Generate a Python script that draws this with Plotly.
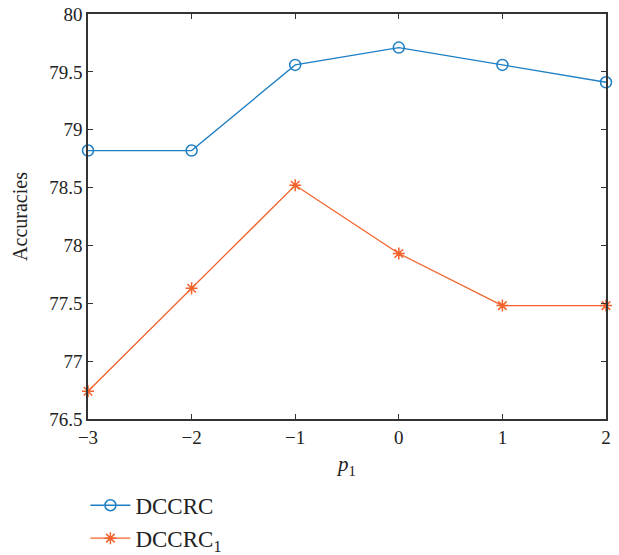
import plotly.graph_objects as go

p1 = [-3, -2, -1, 0, 1, 2]
dccrc = [78.82, 78.82, 79.56, 79.71, 79.56, 79.41]
dccrc1 = [76.74, 77.63, 78.52, 77.93, 77.48, 77.48]

blue = "#1f7fc4"
orange = "#f2622a"
font = "Liberation Serif, Times New Roman, serif"

fig = go.Figure()
fig.add_trace(go.Scatter(x=p1, y=dccrc, mode="lines+markers", name="DCCRC",
                         line=dict(color=blue, width=1.3),
                         marker=dict(symbol="circle-open", size=11, color=blue, line=dict(width=1.5)),
                         cliponaxis=False))
fig.add_trace(go.Scatter(x=p1, y=dccrc1, mode="lines+markers", name="DCCRC<sub>1</sub>",
                         line=dict(color=orange, width=1.3),
                         marker=dict(symbol="asterisk-open", size=10, color=orange, line=dict(width=1.5, color=orange)),
                         cliponaxis=False))

axcommon = dict(showline=True, linecolor="#333", linewidth=1.5, mirror="ticks",
                ticks="inside", ticklen=5, tickcolor="#333", showgrid=False, zeroline=False,
                automargin=False,
                tickfont=dict(family=font, size=19, color="#222"))
fig.update_xaxes(range=[-3, 2], tickvals=p1,
                 title=dict(text="<i>p</i><sub>1</sub>", font=dict(family=font, size=21, color="#222"), standoff=10),
                 **axcommon)
fig.update_yaxes(range=[76.5, 80], tickvals=[76.5, 77, 77.5, 78, 78.5, 79, 79.5, 80],
                 ticktext=["76.5", "77", "77.5", "78", "78.5", "79", "79.5", "80"],
                 title=dict(text="Accuracies", font=dict(family=font, size=20, color="#222"), standoff=16),
                 **axcommon)

fig.update_layout(width=619, height=555, margin=dict(l=88, r=13, t=14, b=136, autoexpand=False),
                  plot_bgcolor="white", paper_bgcolor="white",
                  font=dict(family=font, color="#222"),
                  showlegend=True,
                  legend=dict(x=-0.005, y=-0.16, xanchor="left", yanchor="top",
                              font=dict(family=font, size=23, color="#222"),
                              bgcolor="rgba(0,0,0,0)", tracegroupgap=0, itemwidth=40))
fig.write_html("out.html")
